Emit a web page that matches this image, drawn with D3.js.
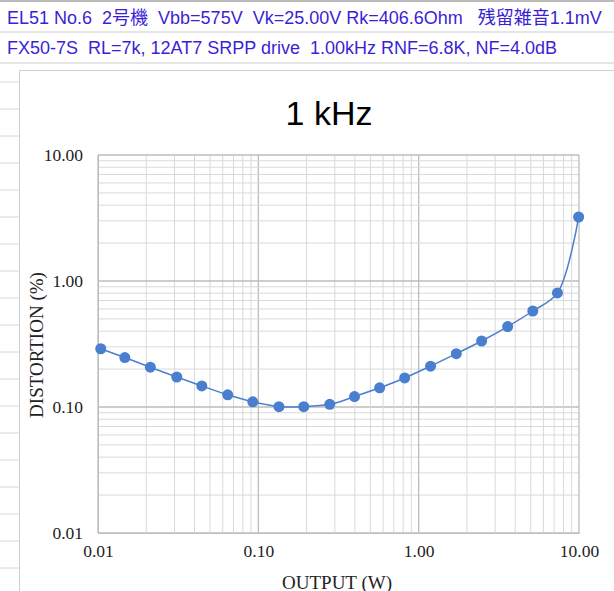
<!DOCTYPE html><html><head><meta charset="utf-8"><script src="https://cdn.jsdelivr.net/npm/d3@7"></script>
<style>body{margin:0;background:#fff} text{white-space:pre}</style></head><body><svg id="c" width="614" height="591"></svg>
<script>
const headerLines=["EL51 No.6  2号機  Vbb=575V  Vk=25.00V Rk=406.6Ohm   残留雑音1.1mV","FX50-7S  RL=7k, 12AT7 SRPP drive  1.00kHz RNF=6.8K, NF=4.0dB"];
const title="1 kHz";
const outputW=[0.0104,0.0147,0.0212,0.031,0.0444,0.0644,0.0923,0.1345,0.192,0.279,0.398,0.571,0.818,1.186,1.717,2.47,3.59,5.15,7.34,9.95];
const distortion=[0.290,0.247,0.207,0.173,0.147,0.125,0.110,0.1006,0.1006,0.105,0.121,0.142,0.170,0.211,0.265,0.334,0.435,0.578,0.804,3.22];
const xTicks=[0.01,0.1,1,10], yTicks=[0.01,0.1,1,10];
const xTickLabels=["0.01","0.10","1.00","10.00"], yTickLabels=["0.01","0.10","1.00","10.00"];
const svg=d3.select("#c");
svg.append("line").attr("x1",0).attr("x2",614).attr("y1",1).attr("y2",1).attr("stroke","#bbb").attr("stroke-width",2);
svg.append("line").attr("x1",0).attr("x2",614).attr("y1",32).attr("y2",32).attr("stroke","#ccc");
svg.append("line").attr("x1",0).attr("x2",614).attr("y1",63).attr("y2",63).attr("stroke","#ccc");
headerLines.forEach((t,i)=>svg.append("text").attr("x",7).attr("y",24+i*30).attr("xml:space","preserve").text(t).attr("fill","#3b1fd6").attr("font-family","'Liberation Sans','Noto Sans CJK JP',sans-serif").attr("font-size",18));
for(let y=82;y<591;y+=27) svg.append("line").attr("x1",0).attr("x2",19).attr("y1",y).attr("y2",y).attr("stroke","#d6d6d6");
svg.append("line").attr("x1",19.5).attr("x2",19.5).attr("y1",70).attr("y2",591).attr("stroke","#d0d0d0");
svg.append("line").attr("x1",19.5).attr("x2",614).attr("y1",70.5).attr("y2",70.5).attr("stroke","#d0d0d0");
svg.append("text").attr("x",329).attr("y",125).attr("text-anchor","middle").attr("font-family","'Liberation Sans',sans-serif").attr("font-size",34).text(title);
const x=d3.scaleLog().domain([0.01,10]).range([98,579]);
const y=d3.scaleLog().domain([0.01,10]).range([533,155]);
const minors=[];for(let d=0.01;d<10;d*=10)for(let k=1;k<10;k++)minors.push(+(d*k).toPrecision(3));minors.push(10);
const g=svg.append("g");
minors.forEach(v=>{const major=yTicks.includes(v);
 g.append("line").attr("x1",x(0.01)).attr("x2",x(10)).attr("y1",y(v)).attr("y2",y(v)).attr("stroke",major?"#bdbdbd":"#d9d9d9").attr("stroke-width",major?1.3:1);
 g.append("line").attr("y1",y(0.01)).attr("y2",y(10)).attr("x1",x(v)).attr("x2",x(v)).attr("stroke",major?"#bdbdbd":"#d9d9d9").attr("stroke-width",major?1.3:1);});
const xa=svg.append("g").attr("transform","translate(0,533)").call(d3.axisBottom(x).tickValues(xTicks).tickFormat((d,i)=>xTickLabels[i]).tickSize(0).tickPadding(12));
const ya=svg.append("g").attr("transform","translate(98,0)").call(d3.axisLeft(y).tickValues(yTicks).tickFormat((d,i)=>yTickLabels[i]).tickSize(0).tickPadding(15));
[xa,ya].forEach(a=>{a.select(".domain").attr("stroke","#bdbdbd");a.selectAll("text").attr("font-family","'Liberation Serif',serif").attr("font-size",17.5).attr("fill","#222");});
svg.append("text").attr("x",337).attr("y",589).attr("text-anchor","middle").attr("font-family","'Liberation Serif',serif").attr("font-size",19).attr("fill","#222").text("OUTPUT (W)");
svg.append("text").attr("transform","translate(43,345) rotate(-90)").attr("text-anchor","middle").attr("font-family","'Liberation Serif',serif").attr("font-size",19).attr("fill","#222").text("DISTORTION (%)");
const data=outputW.map((v,i)=>[v,distortion[i]]);
svg.append("path").datum(data).attr("d",d3.line().x(d=>x(d[0])).y(d=>y(d[1])).curve(d3.curveCatmullRom.alpha(0.5))).attr("fill","none").attr("stroke","#4a7ecf").attr("stroke-width",1.5);
svg.selectAll("circle").data(data).join("circle").attr("cx",d=>x(d[0])).attr("cy",d=>y(d[1])).attr("r",5.5).attr("fill","#4a7ecf");
</script></body></html>
